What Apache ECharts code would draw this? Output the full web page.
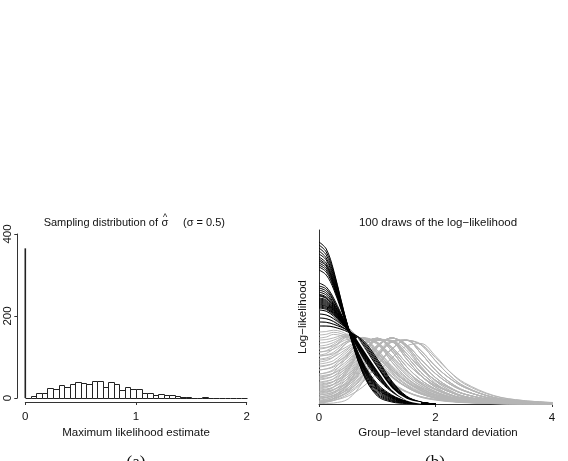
<!DOCTYPE html>
<html><head><meta charset="utf-8">
<script src="https://cdn.jsdelivr.net/npm/echarts@6/dist/echarts.min.js"></script>
<style>html,body{margin:0;padding:0;background:#fff}#c{width:568px;height:461px}</style>
</head><body><div id="c"></div>
<script>
// ---------- Panel (a): histogram ----------
const binEdges = [0,0.05,0.1,0.15,0.2,0.25,0.3,0.35,0.4,0.45,0.5,0.55,0.6,0.65,0.7,0.75,0.8,0.85,0.9,0.95,1,
  1.05,1.1,1.15,1.2,1.25,1.3,1.35,1.4,1.45,1.5,1.55,1.6,1.65,1.7,1.75,1.8,1.85,1.9,1.95,2];
const binCounts = [0,5,12,12,25,22,31,28,33,38, 37,34,42,42,27,40,34,20,28,22,
  22,13,12,8,10,8,7,4,2,2, 1,0,2,1,0,0,0,0,0,0];
const zeroCount = 365;
const histXTicks = ['0','1','2'];
const histYTicks = ['0','200','400'];

// ---------- Panel (b): 100 curves ----------
const sdGrid = [0,0.125,0.25,0.5,0.75,1,1.25,1.5,1.75,2,2.25,2.5,3,3.5,4.1];
const blackCurves = [
 [162,155,134,76,31,8,2,0.5,0.1,0],
 [159,152,132,77,32,9.3,2.8,0.8,0.2,0],
 [156,149,130,75,33,10.6,3.5,1,0.2,0],
 [153,146,128,76,34.5,12,4.2,1.3,0.3,0],
 [150,144,126,77,36,13.3,5,1.6,0.4,0],
 [147,141,124,75,37,14.6,5.8,1.8,0.4,0],
 [145,139,122.5,76,38,15.5,6.2,2,0.5,0],
 [143,138,121,74.5,38.5,16.4,6.7,2.2,0.5,0],
 [141,136,120,76,39.5,17.3,7.3,2.4,0.6,0],
 [139,134,118.4,75,40,18.1,7.8,2.6,0.6,0],
 [137,132,117,76.5,41,19,8.3,2.7,0.7,0],
 [134,129,115,75,42,20.3,9,3,0.7,0],
 [121,117,106,75.5,47,26,12.2,4.2,1,0],
 [118,115,104,74,48,27.4,13,4.4,1.1,0],
 [116,113,103,75.5,49,28.3,13.5,4.6,1.1,0],
 [114,111,101,74.5,50,29,14,4.8,1.2,0],
 [112,109,100,76,51,30,14.5,5,1.2,0],
 [110,107,99,74,51,31,15,5.1,1.3,0],
 [109,106,98,75.5,52,31.3,15.3,5.2,1.3,0],
 [108,105.5,97,74.5,52,31.8,15.5,5.3,1.3,0],
 [106,104,96,75,53,32.7,16,5.5,1.4,0],
 [105,103,95.3,74,53.4,33.1,16.3,5.6,1.4,0],
 [104,102,94.7,75.5,54,33.5,16.5,5.7,1.4,0],
 [103,101,94,74.5,54,34,16.7,5.8,1.4,0],
 [102,100,93.3,75,54.6,34.4,17,5.9,1.5,0],
 [101,99,92.6,73.5,55,34.9,17.2,5.9,1.5,0],
 [100,98,92,75,55.4,35.3,17.5,6,1.5,0],
 [99,97.3,91.3,74,56,35.8,17.8,6.1,1.5,0],
 [98,96.3,90.6,75.5,56,36.2,18,6.2,1.5,0],
 [97,95.4,90,74,56.5,36.6,18.3,6.3,1.6,0],
 [96,94.5,89.2,75,57,37.1,18.5,6.4,1.6,0],
 [94,92.7,87.8,73.5,57.7,38,19,6.6,1.6,0],
 [90,89,85.2,74.5,59.3,39.7,20,6.9,1.7,0],
 [86,85.3,82.4,73,61,41.5,21,7.3,1.8,0],
 [82,81.7,79.7,73.5,62.4,43.2,22,7.6,1.9,0],
 [78,78,77,72,64,45,23,8,2,0]
];
const grayCurves = [
 [94,93,89,77,60,43,28,17,10,5.5,3,1.6,0.4,0.1,0],
 [90,89,86,76,61,45,30,19,11,6,3.3,1.8,0.5,0.1,0],
 [86,85,83,75,62,47,32,20,12,6.5,3.6,2,0.5,0.1,0],
 [82,81.5,80,74,63,49,34,22,13,7,4,2.2,0.6,0.1,0],
 [78,77.7,77,73,64,51,36,23,14,8,4.4,2.4,0.6,0.1,0],
 [72,72.5,73.8,68.5,50,32.6,20.4,12.6,7.4,4.6,2.8,1.8,0.7,0.3,0],
 [69,69.7,71.7,66.6,48.6,31.7,19.8,12.2,7.2,4.5,2.7,1.7,0.6,0.3,0],
 [66,67,69.6,64.8,47.3,30.8,19.3,11.9,7,4.3,2.7,1.7,0.6,0.3,0],
 [64,64.5,66.1,70,61.6,43.4,28,17.5,10.5,6.3,3.9,2.5,0.9,0.4,0],
 [61,61.7,63.8,69,60.7,42.8,27.6,17.3,10.4,6.2,3.8,2.4,0.9,0.3,0],
 [58,58.9,61.5,68,59.8,42.2,27.2,17,10.2,6.1,3.7,2.4,0.9,0.3,0],
 [55,56.1,59.6,68,62.2,47.6,33.3,22.4,15,9.5,6.3,4.2,1.9,0.8,0],
 [52,53.3,57.3,67,59,41.5,26.8,16.8,10,6,3.7,2.3,0.9,0.3,0],
 [49,50.5,55.3,67,57,36.5,21.8,12.7,6.7,3.9,2.3,1.3,0.4,0.1,0],
 [56,56.6,58.2,64.8,65.7,52.3,34.8,22.1,13.7,8,5,3,1.2,0.5,0],
 [52,52.8,54.8,63.2,64.9,54.1,38.3,25.7,16.8,10.9,6.6,4.4,1.9,0.8,0],
 [48,49,51.8,63.2,65.3,49.9,31.5,18.8,11.1,6.2,3.6,2.2,0.8,0.3,0],
 [45,46.1,49.2,61.8,64.7,51.5,34.3,21.8,13.5,7.9,5,3,1.2,0.5,0],
 [42,43.4,47,62,65.8,53.6,36.9,24.1,15.4,9.4,5.8,3.6,1.5,0.6,0],
 [48,48.7,50.3,58,65.7,61,44.6,29,18.2,11.2,6.6,4.1,1.6,0.6,0],
 [44,44.9,46.9,56.2,65.7,61.8,47.9,33,21.8,14.2,8.8,5.7,2.4,1,0],
 [40,41.1,43.5,55,66.6,61,41.9,26.1,15.4,8.7,5.1,2.9,1,0.3,0],
 [37,38.2,40.8,53.1,65.6,61.4,46.2,31,19.8,12.5,7.6,4.8,2,0.8,0],
 [34,35.2,38,51.2,64.5,59.8,42.3,26.7,16.3,9.6,5.6,3.4,1.2,0.5,0],
 [30,31.4,34.7,50,65.5,61.8,47.9,33,21.8,14.2,8.8,5.7,2.4,1,0],
 [26,27.6,31.2,48.2,65.4,61,44.6,29,18.2,11.2,6.6,4.1,1.6,0.6,0],
 [38,38.8,40.7,48.9,61.2,65.7,55.1,37.6,24.1,15,8.9,5.5,2.2,0.8,0],
 [34,35,37,46.5,60.6,65.7,56.8,41.3,28.1,18.3,11.9,7.3,3,1.3,0],
 [30,31.1,33.4,44,59.9,65.6,52.8,34,20.5,12.2,6.8,4,1.5,0.5,0],
 [27,28.2,30.7,42.2,59.4,65.7,55.1,37.6,24.1,15,8.9,5.5,2.2,0.8,0],
 [24,25.3,28,40.4,58.9,65.7,56.8,41.3,28.1,18.3,11.9,7.3,3,1.3,0],
 [21,22.4,25.3,38.6,58.4,65.6,52.8,34,20.5,12.2,6.8,4,1.5,0.5,0],
 [18,19.4,22.6,36.7,57.8,65.7,55.1,37.6,24.1,15,8.9,5.5,2.2,0.8,0],
 [15,16.5,19.8,34.9,57.3,65.7,56.8,41.3,28.1,18.3,11.9,7.3,3,1.3,0],
 [12,13.6,17.1,33.1,56.8,65.6,52.8,34,20.5,12.2,6.8,4,1.5,0.5,0],
 [28,29,30.7,38.8,53.1,64.7,63,48.2,31.7,19.8,12.3,7.3,2.8,1.1,0],
 [25,26,27.9,36.7,52.1,64.6,63.5,50.8,35.3,23.8,15.5,9.8,4,1.7,0],
 [22,23.1,25.1,34.5,51,64.5,62.4,45.2,28.4,16.8,9.6,5.5,2,0.7,0],
 [19,20.2,22.3,32.4,50,64.4,63,48.2,31.7,19.8,12.3,7.3,2.8,1.1,0],
 [16,17.3,19.5,30.3,49,64.3,63.5,50.8,35.3,23.8,15.5,9.8,4,1.7,0],
 [13,14.3,16.7,28.1,48,64.1,62.4,45.2,28.4,16.8,9.6,5.5,2,0.7,0],
 [10,11.4,13.9,26,47,64,63,48.2,31.7,19.8,12.3,7.3,2.8,1.1,0],
 [7,8.5,11.1,23.8,45.9,63.9,63.5,50.8,35.3,23.8,15.5,9.8,4,1.7,0],
 [3,4.6,7.4,21,44.6,63.8,62.4,45.2,28.4,16.8,9.6,5.5,2,0.7,0],
 [1,2.6,5.6,19.5,43.9,63.7,63,48.2,31.7,19.8,12.3,7.3,2.8,1.1,0],
 [20,20.9,22.6,30,43.6,58.9,66,58.1,40.9,26.4,16.5,9.9,3.6,1.5,0],
 [17,18,19.8,27.6,42.1,58.5,66,59.4,44.6,30.4,19.8,12.9,5.1,2.2,0],
 [14,15,17,25.3,40.6,58,66,56.6,37.6,23.1,13.5,7.7,2.6,0.9,0],
 [11,12.1,14.1,22.9,39.2,57.5,66,58.1,40.9,26.4,16.5,9.9,3.6,1.5,0],
 [9,10.1,12.2,21.4,38.2,57.2,66,59.4,44.6,30.4,19.8,12.9,5.1,2.2,0],
 [7,8.2,10.4,19.8,37.2,56.9,66,56.6,37.6,23.1,13.5,7.7,2.6,0.9,0],
 [5,6.2,8.5,18.2,36.2,56.6,66,58.1,40.9,26.4,16.5,9.9,3.6,1.5,0],
 [2,3.3,5.6,15.9,34.8,56.1,66,59.4,44.6,30.4,19.8,12.9,5.1,2.2,0],
 [0.5,0.6,1,5,22,50,63,54,36,21,12,6.5,1.8,0.5,0],
 [12,12.8,14.7,21.3,33.7,49.6,62.5,63.7,50.7,33.8,21.5,13.3,4.9,2,0.6],
 [9,9.8,11.8,18.8,32,48.8,62.4,63.9,53.3,37.7,25.4,16.6,6.5,2.8,1],
 [6,6.9,9,16.3,30.2,47.9,62.2,63.7,50.7,33.8,21.5,13.3,4.9,2,0.6],
 [4,4.9,7.1,14.7,29,47.3,62.1,63.9,53.3,37.7,25.4,16.6,6.5,2.8,1],
 [2,2.9,5.2,13,27.8,46.7,62,63.7,50.7,33.8,21.5,13.3,4.9,2,0.6],
 [1,2,4.2,12.2,27.2,46.4,62,63.9,53.3,37.7,25.4,16.6,6.5,2.8,1],
 [6,6.7,8.3,14.1,25.1,40.2,55.3,63.7,59.2,43.2,28.2,17.6,6.4,2.4,0.8],
 [3,3.7,5.4,11.5,23.1,39,54.9,63.7,60,46.4,32,21.1,8.5,3.5,1.3],
 [1,1.8,3.5,9.8,21.8,38.2,54.6,63.7,59.2,43.2,28.2,17.6,6.4,2.4,0.8],
 [2,2.5,3.5,8,17,31,46,58,60.5,48,32,20,8,3.5,1]
];
const whiteCurveX = [0.65,0.75,1,1.25,1.5,1.75];
const whiteCurveY = [66,57,35,15,4.5,1];
const llXTicks = ['0','2','4'];

const FONT = 'Liberation Sans, Arial, sans-serif';
const TXT = '#111';
const AX = '#333';

function curveData(ys) { return ys.map((y, i) => [sdGrid[i], y]); }

const histData = binCounts.map((c, i) => [binEdges[i], binEdges[i + 1], c]);

const crisp = v => Math.round(v) + 0.5;

const series = [];
series.push({
  type: 'custom', xAxisIndex: 0, yAxisIndex: 0, silent: true, animation: false,
  encode: { x: [0, 1], y: 2 },
  data: histData,
  renderItem(params, api) {
    const x0 = api.value(0), x1 = api.value(1), c = api.value(2);
    const pTop = api.coord([x0, c]);
    const pBot = api.coord([x1, 0]);
    const L = crisp(pTop[0]), R = crisp(pBot[0]), T = crisp(pTop[1]), B = crisp(pBot[1]);
    if (c === 0) {
      return { type: 'line', shape: { x1: L, y1: B, x2: R, y2: B }, style: { stroke: '#222', lineWidth: 1 } };
    }
    return { type: 'rect', shape: { x: L, y: T, width: R - L, height: B - T }, style: { fill: '#fff', stroke: '#222', lineWidth: 1 } };
  }
});
series.push({
  type: 'custom', xAxisIndex: 0, yAxisIndex: 0, silent: true, animation: false,
  data: [[0, zeroCount]],
  renderItem(params, api) {
    const p0 = api.coord([api.value(0), 0]);
    const p1 = api.coord([api.value(0), api.value(1)]);
    return { type: 'line', shape: { x1: p0[0], y1: p0[1], x2: p1[0], y2: p1[1] }, style: { stroke: '#222', lineWidth: 1.6 } };
  }
});
grayCurves.forEach(ys => series.push({
  type: 'line', xAxisIndex: 1, yAxisIndex: 1, data: curveData(ys), symbol: 'none', smooth: 0.35,
  lineStyle: { color: '#b5b5b5', width: 1 }, silent: true, animation: false, clip: false, z: 2
}));
blackCurves.forEach(ys => series.push({
  type: 'line', xAxisIndex: 1, yAxisIndex: 1, data: curveData(ys), symbol: 'none', smooth: 0.35,
  lineStyle: { color: '#000', width: 1 }, silent: true, animation: false, clip: false, z: 3
}));
series.push({
  type: 'line', xAxisIndex: 1, yAxisIndex: 1, data: whiteCurveX.map((x, i) => [x, whiteCurveY[i]]),
  symbol: 'none', smooth: 0.35, lineStyle: { color: '#fff', width: 1.5 }, silent: true, animation: false, z: 4
});

function txt(text, x, y, opts) {
  return Object.assign({
    type: 'text', x: x, y: y, silent: true,
    style: Object.assign({ text: text, fill: TXT, font: '11.5px ' + FONT, align: 'center', verticalAlign: 'middle',
      textAlign: 'center', textVerticalAlign: 'middle' }, (opts && opts.style) || {})
  }, (opts && opts.el) || {});
}

const option = {
  animation: false,
  backgroundColor: '#fff',
  grid: [
    { left: 25.3, top: 234, width: 221.4, height: 164, outerBoundsMode: 'none', containLabel: false },
    { left: 319, top: 230, width: 233, height: 174, outerBoundsMode: 'none', containLabel: false }
  ],
  xAxis: [
    { gridIndex: 0, type: 'value', min: 0, max: 2, interval: 1, offset: 4,
      axisLine: { show: true, onZero: false, lineStyle: { color: AX, width: 1 } },
      axisTick: { show: true, length: 3, lineStyle: { color: AX } },
      axisLabel: { show: true, color: TXT, fontSize: 11.5, fontFamily: FONT, margin: 9,
        formatter: v => histXTicks[Math.round(v)] },
      splitLine: { show: false } },
    { gridIndex: 1, type: 'value', min: 0, max: 4, interval: 2,
      axisLine: { show: true, onZero: false, lineStyle: { color: AX, width: 1 } },
      axisTick: { show: true, length: 3, lineStyle: { color: AX } },
      axisLabel: { show: true, color: TXT, fontSize: 11.5, fontFamily: FONT, margin: 8,
        formatter: v => llXTicks[Math.round(v / 2)] },
      splitLine: { show: false } }
  ],
  yAxis: [
    { gridIndex: 0, type: 'value', min: 0, max: 400, interval: 200, offset: 8,
      axisLine: { show: true, onZero: false, lineStyle: { color: AX, width: 1 } },
      axisTick: { show: true, length: 3, lineStyle: { color: AX } },
      axisLabel: { show: true, color: TXT, fontSize: 11.5, fontFamily: FONT, rotate: 90, margin: 3,
        formatter: v => histYTicks[Math.round(v / 200)] },
      splitLine: { show: false } },
    { gridIndex: 1, type: 'value', min: 0, max: 174,
      axisLine: { show: true, onZero: false, lineStyle: { color: AX, width: 1 } },
      axisTick: { show: false }, axisLabel: { show: false }, splitLine: { show: false } }
  ],
  series: series,
  graphic: [
    txt('Sampling distribution of', 158, 223, { style: { font: '11px ' + FONT, align: 'right', textAlign: 'right' } }),
    txt('\u03c3', 165, 223, { style: { font: '11px ' + FONT } }),
    txt('^', 165, 218, { style: { font: '9px ' + FONT } }),
    txt('(\u03c3 = 0.5)', 183, 223, { style: { font: '11px ' + FONT, align: 'left', textAlign: 'left' } }),
    txt('Maximum likelihood estimate', 136, 433),
    txt('100 draws of the log\u2212likelihood', 438, 223),
    txt('Group\u2212level standard deviation', 438, 433),
    txt('Log\u2212likelihood', 303, 317, { el: { rotation: Math.PI / 2 } }),
    txt('(a)', 136, 454, { style: { font: '17px Liberation Serif, serif', verticalAlign: 'top', textVerticalAlign: 'top' } }),
    txt('(b)', 435, 454, { style: { font: '17px Liberation Serif, serif', verticalAlign: 'top', textVerticalAlign: 'top' } })
  ]
};

const chart = echarts.init(document.getElementById('c'), null, { renderer: 'canvas', width: 568, height: 461 });
chart.setOption(option);
</script>
</body></html>
